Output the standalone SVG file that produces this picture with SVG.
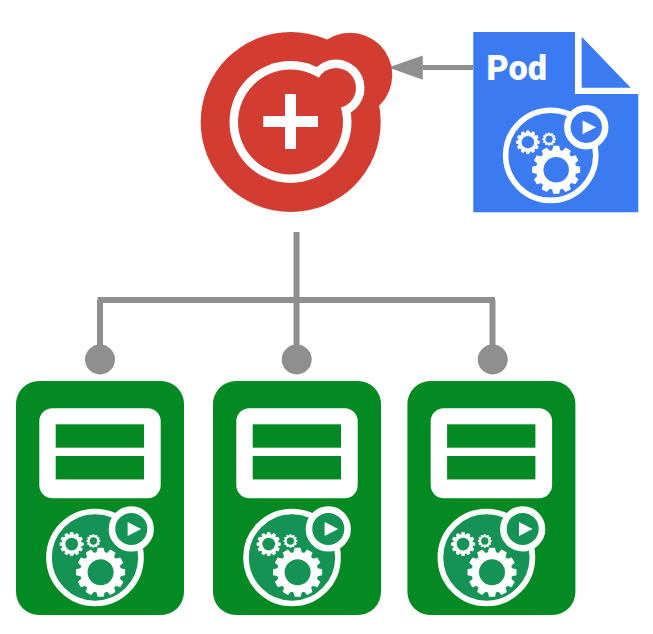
<svg xmlns="http://www.w3.org/2000/svg" width="653" height="634" viewBox="0 0 653 634">
<style>
.wire{fill:none;stroke:#8f8f8f;stroke-width:6}
.thin{fill:none;stroke:#8f8f8f;stroke-width:5}
.dot{fill:#8f8f8f}
.w{fill:#fff}
.red{fill:#d33c30}
.card{fill:#038a22}
.pod{fill:#3b7bf2}
.label{font-family:Roboto,"Liberation Sans",sans-serif;font-weight:900;font-size:35px;fill:#fff}
.ring{stroke:#fff;stroke-width:5.7}
.ringp{stroke:#fff;stroke-width:6.6}
</style>
<defs>
<marker id="head" markerUnits="userSpaceOnUse" markerWidth="35" markerHeight="25" refX="0" refY="12.2" orient="auto">
<path d="M0 0L34.4 12.2L0 24.4Z" fill="#8f8f8f"/>
</marker>
<path id="tooth" class="w" d="M-24.5 -3L-19 -4.3H19L24.5 -3V3L19 4.3H-19L-24.5 3Z"/>
<g id="gear">
<use href="#tooth"/>
<use href="#tooth" transform="rotate(30)"/>
<use href="#tooth" transform="rotate(60)"/>
<use href="#tooth" transform="rotate(90)"/>
<use href="#tooth" transform="rotate(120)"/>
<use href="#tooth" transform="rotate(150)"/>
<circle class="w" r="20.5"/>
<circle r="13"/>
</g>
<g id="icon">
<circle class="ring" r="46"/>
<use href="#gear" transform="translate(5.6 14.8)"/>
<use href="#gear" transform="translate(-23.3 -13.4) scale(.49)"/>
<use href="#gear" transform="translate(-1.6 -16.5) scale(.28)"/>
<circle class="ringp" cx="36.3" cy="-28.6" r="19.3"/>
<path class="w" d="M32.6 -35.6L32.6 -21.6L46.2 -28.6Z"/>
</g>
<g id="cardbody">
<rect class="card" x="16" y="381" width="168" height="234" rx="23"/>
<rect class="w" x="39.3" y="408.3" width="121.4" height="90" rx="13"/>
<rect class="card" x="55.7" y="424.3" width="88.3" height="23.4"/>
<rect class="card" x="55.7" y="456" width="88.3" height="23.4"/>
<use href="#icon" transform="translate(95 557.5)" fill="#159355"/>
</g>
</defs>
<g id="connectors">
<path class="wire" d="M296.5 232V360M97.5 300H495"/>
<path class="wire" d="M100 300V360M492.5 300V360"/>
<path class="thin" d="M473 67.6H422.8" marker-end="url(#head)"/>
<circle class="dot" cx="100" cy="359.5" r="15"/>
<circle class="dot" cx="296.7" cy="359.5" r="15"/>
<circle class="dot" cx="492.7" cy="359.5" r="15"/>
</g>
<g id="master">
<circle class="red" cx="290.7" cy="122" r="90"/>
<circle class="red" cx="350" cy="75" r="42.3"/>
<circle class="w" cx="290.5" cy="122" r="61"/>
<circle class="w" cx="336" cy="88" r="28.5"/>
<circle class="red" cx="290.5" cy="122" r="52.5"/>
<circle class="red" cx="336" cy="88" r="20"/>
<path class="w" d="M285 94H296V116H318V127H296V149H285V127H263.3V116H285Z"/>
</g>
<g id="pod">
<path class="pod" d="M473.3 32H575V94H638.3V212.3H473.3Z"/>
<path class="pod" d="M581.7 36.7V87.7H630.7Z"/>
<text class="label" x="486.5" y="80" textLength="60.5" lengthAdjust="spacingAndGlyphs">Pod</text>
<use href="#icon" transform="translate(550.7 155.3) scale(.98)" fill="#3b7bf2"/>
</g>
<g id="node-1"><use href="#cardbody"/></g>
<g id="node-2"><use href="#cardbody" transform="translate(197 0)"/></g>
<g id="node-3"><use href="#cardbody" transform="translate(391.4 0)"/></g>
</svg>
